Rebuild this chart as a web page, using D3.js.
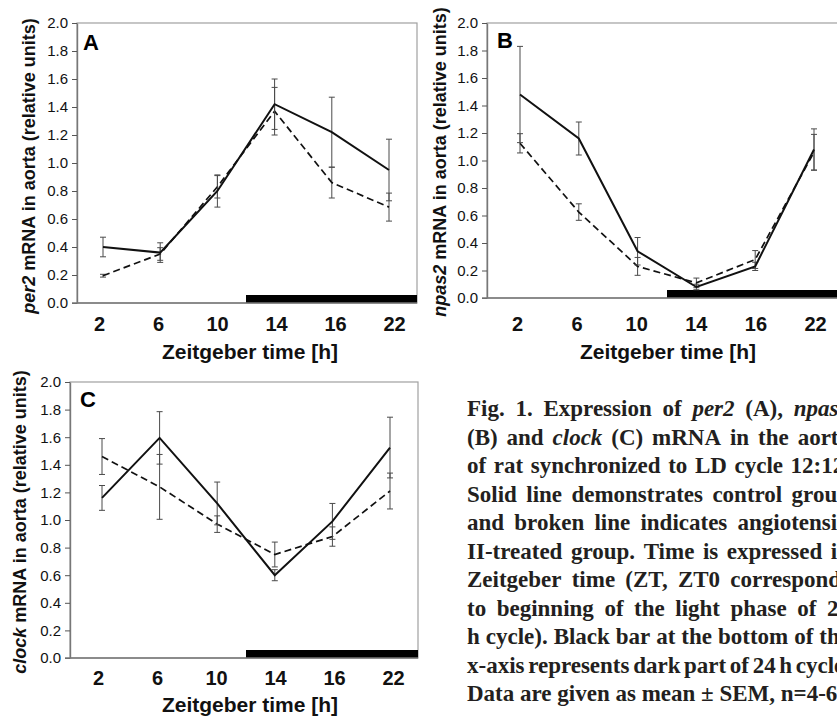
<!DOCTYPE html>
<html><head><meta charset="utf-8">
<script src="https://cdn.jsdelivr.net/npm/d3@7"></script>
<style>body{margin:0;background:#fff} svg{display:block}</style>
</head><body>
<svg id="c" width="837" height="717"></svg>
<script>
// ---------- DATA ----------
const categories = ["2", "6", "10", "14", "16", "22"];
const yTickValues = [0, 0.2, 0.4, 0.6, 0.8, 1.0, 1.2, 1.4, 1.6, 1.8, 2.0];

const per2Control    = [0.40, 0.36, 0.80, 1.42, 1.22, 0.95];
const per2ControlSem = [0.07, 0.07, 0.115, 0.18, 0.25, 0.22];
const per2AngII      = [0.195, 0.35, 0.83, 1.37, 0.86, 0.685];
const per2AngIISem   = [0.01, 0.045, 0.08, 0.17, 0.11, 0.10];

const npas2Control    = [1.48, 1.16, 0.34, 0.08, 0.23, 1.08];
const npas2ControlSem = [0.35, 0.12, 0.10, 0.02, 0.03, 0.15];
const npas2AngII      = [1.125, 0.625, 0.23, 0.11, 0.28, 1.06];
const npas2AngIISem   = [0.07, 0.06, 0.065, 0.035, 0.065, 0.13];

const clockControl    = [1.16, 1.595, 1.12, 0.60, 0.99, 1.525];
const clockControlSem = [0.09, 0.19, 0.155, 0.04, 0.13, 0.22];
const clockAngII      = [1.46, 1.24, 0.97, 0.75, 0.88, 1.21];
const clockAngIISem   = [0.13, 0.235, 0.06, 0.09, 0.07, 0.13];

const xTitle = "Zeitgeber time [h]";
const captionLines = [
  "Fig. 1. Expression of _per2_ (A), _npas2_",
  "(B) and _clock_ (C) mRNA in the aorta",
  "of rat synchronized to LD cycle 12:12.",
  "Solid line demonstrates control group",
  "and broken line indicates angiotensin",
  "II-treated group. Time is expressed in",
  "Zeitgeber time (ZT, ZT0 corresponds",
  "to beginning of the light phase of 24",
  "h cycle). Black bar at the bottom of the",
  "x-axis represents dark part of 24 h cycle.",
  "Data are given as mean ± SEM, n=4-6."
];

// ---------- LAYOUT ----------
const svg = d3.select("#c");
const SANS = "'Liberation Sans', Arial, sans-serif";

const panels = [
  {letter: "A", gene: "per2", ctrl: per2Control, ctrlSem: per2ControlSem, ang: per2AngII, angSem: per2AngIISem,
   left: 77, right: 417, top: 23, bottom: 303, x0: 103, x1: 389, l0: 99, l1: 394, labelY: 331,
   titleX: 29, titleY: 166, xTitleX: 250, xTitleY: 359, letterX: 83, letterY: 50},
  {letter: "B", gene: "npas2", ctrl: npas2Control, ctrlSem: npas2ControlSem, ang: npas2AngII, angSem: npas2AngIISem,
   left: 487, right: 845, top: 23, bottom: 298, x0: 520, x1: 814, l0: 517, l1: 815, labelY: 331,
   titleX: 440, titleY: 162, xTitleX: 668, xTitleY: 359, letterX: 497, letterY: 48},
  {letter: "C", gene: "clock", ctrl: clockControl, ctrlSem: clockControlSem, ang: clockAngII, angSem: clockAngIISem,
   left: 70, right: 418, top: 382, bottom: 658, x0: 102, x1: 390, l0: 98, l1: 393, labelY: 685,
   titleX: 20, titleY: 522, xTitleX: 250, xTitleY: 712, letterX: 80, letterY: 407}
];

function drawPanel(p) {
  const g = svg.append("g");
  const x = d3.scalePoint().domain(categories).range([p.x0, p.x1]);
  const xl = d3.scalePoint().domain(categories).range([p.l0, p.l1]);
  const y = d3.scaleLinear().domain([0, 2]).range([p.bottom, p.top]);

  // frame
  g.append("rect").attr("x", p.left).attr("y", p.top)
    .attr("width", p.right - p.left).attr("height", p.bottom - p.top)
    .attr("fill", "#fff").attr("stroke", "#a0a0a0").attr("stroke-width", 1.2);

  // dark bar (ZT12 lies between the "10" and "14" categories)
  const xs = (x("10") + x("14")) / 2;
  g.append("rect").attr("x", xs).attr("y", y(0) - 8)
    .attr("width", p.right - xs).attr("height", 8).attr("fill", "#000");

  // y axis
  const ya = d3.axisLeft(y).tickValues(yTickValues).tickFormat(d3.format(".1f"))
    .tickSize(5).tickSizeOuter(0).tickPadding(4);
  const yg = g.append("g").attr("transform", `translate(${p.left},0)`).call(ya);
  yg.select(".domain").attr("stroke", "#777").attr("stroke-width", 1.4);
  yg.selectAll(".tick line").attr("stroke", "#555");
  yg.selectAll(".tick text").attr("font-family", SANS).attr("font-size", 15).attr("fill", "#111");

  // x baseline
  g.append("line").attr("x1", p.left - 5).attr("x2", p.right).attr("y1", y(0)).attr("y2", y(0))
    .attr("stroke", "#777").attr("stroke-width", 1.4);

  // x axis labels
  const xa = d3.axisBottom(xl).tickSize(0).tickPadding(0);
  const xg = g.append("g").attr("transform", `translate(0,${p.labelY})`).call(xa);
  xg.select(".domain").remove();
  xg.selectAll(".tick text").attr("dy", 0).attr("font-family", SANS)
    .attr("font-size", 20).attr("font-weight", "bold").attr("fill", "#111");

  // series
  const series = [
    {vals: p.ang, sem: p.angSem, dash: "7,4", w: 1.7},
    {vals: p.ctrl, sem: p.ctrlSem, dash: null, w: 2}
  ];
  series.forEach(s => {
    const pts = categories.map((c, i) => ({c, v: s.vals[i], e: s.sem[i]}));
    const eb = g.append("g").attr("stroke", "#4a4a4a").attr("stroke-width", 1);
    eb.selectAll("line.v").data(pts).join("line").attr("class", "v")
      .attr("x1", d => x(d.c)).attr("x2", d => x(d.c))
      .attr("y1", d => y(d.v - d.e)).attr("y2", d => y(d.v + d.e));
    eb.selectAll("line.t").data(pts).join("line").attr("class", "t")
      .attr("x1", d => x(d.c) - 3).attr("x2", d => x(d.c) + 3)
      .attr("y1", d => y(d.v + d.e)).attr("y2", d => y(d.v + d.e));
    eb.selectAll("line.b").data(pts).join("line").attr("class", "b")
      .attr("x1", d => x(d.c) - 3).attr("x2", d => x(d.c) + 3)
      .attr("y1", d => y(d.v - d.e)).attr("y2", d => y(d.v - d.e));
    g.append("path").datum(pts)
      .attr("d", d3.line().x(d => x(d.c)).y(d => y(d.v)))
      .attr("fill", "none").attr("stroke", "#111").attr("stroke-width", s.w)
      .attr("stroke-dasharray", s.dash);
  });

  // panel letter
  g.append("text").attr("x", p.letterX).attr("y", p.letterY).text(p.letter)
    .attr("font-family", SANS).attr("font-size", 22).attr("font-weight", "bold");

  // y title
  const yt = g.append("text").attr("transform", `translate(${p.titleX},${p.titleY}) rotate(-90)`)
    .attr("text-anchor", "middle").attr("dy", "0.35em")
    .attr("font-family", SANS).attr("font-size", 18).attr("font-weight", "bold").attr("fill", "#111");
  yt.append("tspan").attr("font-style", "italic").text(p.gene);
  yt.append("tspan").text(" mRNA in aorta (relative units)");

  // x title
  g.append("text").attr("x", p.xTitleX).attr("y", p.xTitleY).attr("text-anchor", "middle")
    .attr("font-family", SANS).attr("font-size", 21).attr("font-weight", "bold").attr("fill", "#111")
    .text(xTitle);
}
panels.forEach(drawPanel);

// ---------- CAPTION (justified, runs off the right edge as in the source) ----------
const capX = 467, capY0 = 416, capStep = 28.5, capW = 383;
const cap = svg.append("g").attr("font-family", "'Liberation Serif', 'Times New Roman', serif")
  .attr("font-size", 23).attr("font-weight", "bold").attr("fill", "#231f20");
captionLines.forEach((line, li) => {
  const words = line.split(" ");
  const els = words.map(w => {
    const t = cap.append("text").attr("y", capY0 + li * capStep);
    const parts = w.split("_");
    parts.forEach((pt, k) => { if (pt) t.append("tspan").attr("font-style", k % 2 ? "italic" : null).text(pt); });
    return t;
  });
  const widths = els.map(e => e.node().getComputedTextLength());
  const sum = d3.sum(widths);
  const last = li === captionLines.length - 1;
  const gap = last ? 23 * 0.25 : (capW - sum) / (words.length - 1);
  let cx = capX;
  els.forEach((e, k) => { e.attr("x", cx); cx += widths[k] + gap; });
});
</script>
</body></html>
